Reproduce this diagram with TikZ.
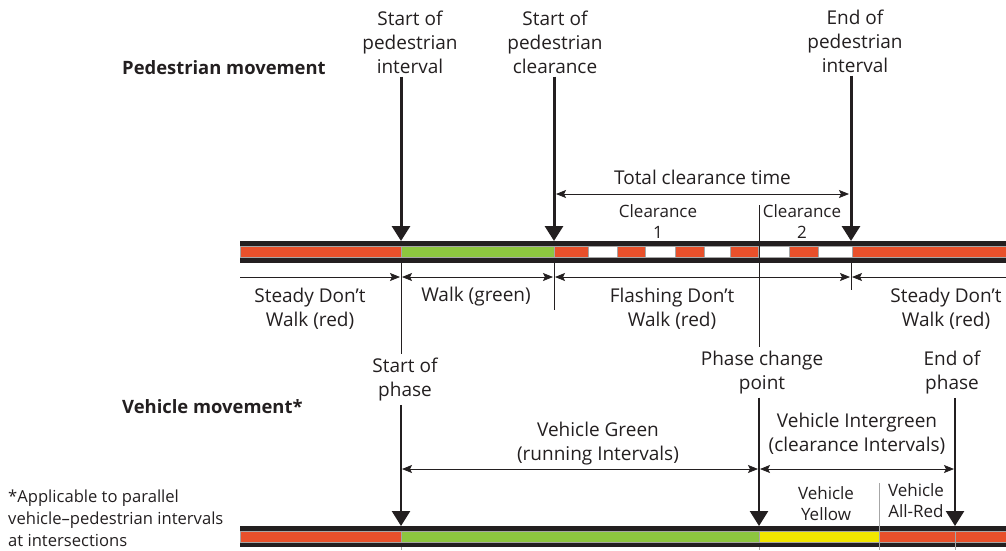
\documentclass[tikz,border=0pt]{standalone}
\usepackage{fontspec}
\setmainfont{Open Sans}
\usetikzlibrary{arrows.meta}

\definecolor{barblack}{HTML}{231F20}
\definecolor{sigred}{HTML}{E8502B}
\definecolor{siggreen}{HTML}{8DC63F}
\definecolor{sigyellow}{HTML}{F2E600}
\definecolor{txtgray}{HTML}{231F20}

\tikzset{
  lbl/.style={align=center, inner sep=0pt, text=txtgray, font=\fontsize{19}{24}\selectfont},
  small/.style={align=center, inner sep=0pt, text=txtgray, font=\fontsize{17}{21}\selectfont},
  head/.style={anchor=west, inner sep=0pt, text=txtgray, font=\bfseries\fontsize{18.4}{20}\selectfont},
  marker/.style={draw=barblack, line width=3pt, shorten <=3pt, -{Triangle[width=18pt,length=15pt]}},
  dim/.style={draw=barblack, line width=0.8pt, {Stealth[width=8pt,length=10pt,inset=2pt]}-{Stealth[width=8pt,length=10pt,inset=2pt]}},
  dimr/.style={draw=barblack, line width=0.8pt, -{Stealth[width=8pt,length=10pt,inset=2pt]}},
  diml/.style={draw=barblack, line width=0.8pt, {Stealth[width=8pt,length=10pt,inset=2pt]}-},
  tick/.style={draw=barblack, line width=0.8pt},
  cell/.style={draw=gray!70, line width=0.5pt},
}

\begin{document}
\begin{tikzpicture}[x=1pt, y=-1pt]
\useasboundingbox (0,0) rectangle (1006,550);

% pedestrian bar
\fill[barblack] (240,241) rectangle (1006,263);
\filldraw[cell, fill=sigred] (240,246.5) rectangle (401,257.5);
\filldraw[cell, fill=siggreen] (401,246.5) rectangle (554,257.5);
\filldraw[cell, fill=white] (554,246.5) rectangle (852,257.5);
\filldraw[cell, fill=sigred] (554,246.5) rectangle (588,257.5);
\filldraw[cell, fill=sigred] (617,246.5) rectangle (645,257.5);
\filldraw[cell, fill=sigred] (675,246.5) rectangle (704,257.5);
\filldraw[cell, fill=sigred] (730,246.5) rectangle (758,257.5);
\filldraw[cell, fill=sigred] (789,246.5) rectangle (818,257.5);
\filldraw[cell, fill=sigred] (852,246.5) rectangle (1006,257.5);

% vehicle bar
\fill[barblack] (240,526) rectangle (1006,547);
\filldraw[cell, fill=sigred] (240,531) rectangle (401,542);
\filldraw[cell, fill=siggreen] (401,531) rectangle (759,542);
\filldraw[cell, fill=sigyellow] (759,531) rectangle (879,542);
\filldraw[cell, fill=sigred] (879,531) rectangle (1006,542);

% points on the bars
\coordinate (ped_int) at (401,241);
\coordinate (ped_clr) at (554,241);
\coordinate (ped_end) at (851,241);
\coordinate (veh_start) at (401,526);
\coordinate (veh_change) at (759,526);
\coordinate (veh_end) at (955,526);

% texts
\node[head] (ped_head) at (122,68) {Pedestrian movement};
\node[head] (veh_head) at (122,407) {Vehicle movement*};
\node[lbl] (start_int) at (410,42) {Start of\\pedestrian\\interval};
\node[lbl] (start_clr) at (555,42) {Start of\\pedestrian\\clearance};
\node[lbl] (end_int) at (855,41) {End of\\pedestrian\\interval};
\node[small] (clr_one) at (658,222) {Clearance\\1};
\node[small] (clr_two) at (802,222) {Clearance\\2};
\node[lbl] (steady_a) at (310,309) {Steady Don’t\\Walk (red)};
\node[lbl] (walk) at (476,297) {Walk (green)};
\node[lbl] (flashing) at (672,309) {Flashing Don’t\\Walk (red)};
\node[lbl] (steady_b) at (946,309) {Steady Don’t\\Walk (red)};
\node[lbl] (phase_start) at (405,380) {Start of\\phase};
\node[lbl] (phase_change) at (762,373) {Phase change\\point};
\node[lbl] (phase_end) at (952,373) {End of\\phase};
\node[lbl] (veh_green) at (598,444) {Vehicle Green\\(running Intervals)};
\node[lbl] (veh_inter) at (857,434) {Vehicle Intergreen\\(clearance Intervals)};
\node[small] (veh_yellow) at (826,504) {Vehicle\\Yellow};
\node[small] (veh_allred) at (916,501) {Vehicle\\All-Red};
\node[small, align=left, anchor=west, font=\fontsize{16.6}{22}\selectfont] (note) at (8,518)
  {*Applicable to parallel\\vehicle–pedestrian intervals\\at intersections};

% markers down to the bars
\draw[marker] (start_int.south -| ped_int) -- (ped_int);
\draw[marker] (start_clr.south -| ped_clr) -- (ped_clr);
\draw[marker] (end_int.south -| ped_end) -- (ped_end);
\draw[marker, line width=2.5pt] (phase_start.south -| veh_start) -- (veh_start);
\draw[marker, line width=2.5pt] (phase_change.south -| veh_change) -- (veh_change);
\draw[marker, line width=2.5pt] (phase_end.south -| veh_end) -- (veh_end);

% thin ticks
\draw[tick] (401,263) -- ([yshift=4pt]phase_start.north -| ped_int);
\draw[tick] (554,263) -- (554,310);
\draw[tick] (851,263) -- (851,290);
\draw[tick] (759,205) -- ([yshift=4pt]phase_change.north -| veh_change);
\draw[cell] (879,483) -- (879,550);
\draw[cell] (401,547) -- (401,550);
\draw[cell] (759,547) -- (759,550);
\draw[cell] (955,531) -- (955,550);

% time spans
\draw[dim] (556,194) -- (849,194) node[midway, above=9pt, lbl] (tot_clr) {Total clearance time};
\draw[dimr] (240,277) -- (400,277);
\draw[dim] (402,277) -- (553,277);
\draw[dim] (555,277) -- (850,277);
\draw[diml] (852,277) -- (1006,277);
\draw[dim] (402,469) -- (758,469);
\draw[dim] (760,469) -- (954,469);
\end{tikzpicture}
\end{document}
